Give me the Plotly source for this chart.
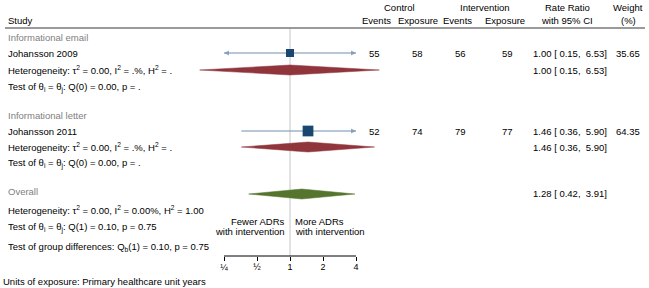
import plotly.graph_objects as go
import math

# ---------------- data ----------------
subgroups = ["Informational email", "Informational letter"]
studies = ["Johansson 2009", "Johansson 2011"]
ctrl_events = [55, 52]
ctrl_exposure = [58, 74]
int_events = [56, 79]
int_exposure = [59, 77]
rr = [1.00, 1.46]
ci_low = [0.15, 0.36]
ci_high = [6.53, 5.90]
weights = [35.65, 64.35]
sub_rr = [1.00, 1.46]
sub_low = [0.15, 0.36]
sub_high = [6.53, 5.90]
sub_het = ["Heterogeneity: τ<sup>2</sup> = 0.00, I<sup>2</sup> = .%, H<sup>2</sup> = .",
           "Heterogeneity: τ<sup>2</sup> = 0.00, I<sup>2</sup> = .%, H<sup>2</sup> = ."]
sub_test = ["Test of θ<sub>i</sub> = θ<sub>j</sub>: Q(0) = 0.00, p = .",
            "Test of θ<sub>i</sub> = θ<sub>j</sub>: Q(0) = 0.00, p = ."]
overall_rr = 1.28
overall_low = 0.42
overall_high = 3.91
overall_het = "Heterogeneity: τ<sup>2</sup> = 0.00, I<sup>2</sup> = 0.00%, H<sup>2</sup> = 1.00"
overall_test = "Test of θ<sub>i</sub> = θ<sub>j</sub>: Q(1) = 0.10, p = 0.75"
group_test = "Test of group differences: Q<sub>b</sub>(1) = 0.10, p = 0.75"
footnote = "Units of exposure: Primary healthcare unit years"
tick_vals = [0.25, 0.5, 1, 2, 4]
tick_labels = ["¼", "½", "1", "2", "4"]
left_note = ["Fewer ADRs", "with intervention"]
right_note = ["More ADRs", "with intervention"]

# ---------------- layout constants (pixels) ----------------
W, H = 649, 288
FONT = "Liberation Sans, Arial, sans-serif"
FS = 9.5
NAVY = "#1a476f"
CI_COL = "#6f8fae"
MAROON = "#90353b"
GREEN = "#55752f"
GREY_TXT = "#808080"

# row y-centres (pixels from top)
sub_rows = [
    dict(label=37, study=53, het=70, test=87),
    dict(label=115, study=131, het=147, test=163),
]
ROW_OVERALL = 191
ROW_OV_HET = 210
ROW_OV_TEST = 227
ROW_GROUP = 247
ROW_AXIS = 256
ROW_FOOT = 281
ROW_HEAD1 = 7
ROW_HEAD2 = 20
ROW_LINE = 28
NOTE_ROWS = [221, 231]

# column x-centres
COL_CE, COL_CX, COL_IE, COL_IX = 374, 418, 460, 507
COL_CI, COL_W = 570, 628

# x axis: pixel 290 <-> 1, 33 px per doubling
PX_ONE = 290
PX_PER_DEC = 33 / math.log10(2)
x_range = [-PX_ONE / PX_PER_DEC, (W - PX_ONE) / PX_PER_DEC]
AX_LO, AX_HI = tick_vals[0], tick_vals[-1]

fig = go.Figure()
annots = []


def txt(text, xpx, ypx, anchor="left", color="black", size=FS):
    annots.append(dict(text=text, x=xpx / W, y=ypx, xref="paper", yref="y",
                       xanchor=anchor, yanchor="middle", showarrow=False,
                       font=dict(family=FONT, size=size, color=color),
                       borderpad=0))


def diamond(lo, est, hi, yc, color, half=5):
    fig.add_trace(go.Scatter(x=[lo, est, hi, est, lo], y=[yc, yc - half, yc, yc + half, yc],
                             mode="lines", fill="toself", fillcolor=color,
                             line=dict(color=color, width=0.5), hoverinfo="skip"))


# reference line at 1
fig.add_trace(go.Scatter(x=[1, 1], y=[ROW_LINE + 1, ROW_AXIS], mode="lines",
                         line=dict(color="#c6c6c6", width=1), hoverinfo="skip"))

# axis line
fig.add_trace(go.Scatter(x=[AX_LO, AX_HI], y=[ROW_AXIS, ROW_AXIS], mode="lines",
                         line=dict(color="black", width=1), hoverinfo="skip"))

# header line
fig.add_shape(type="line", xref="paper", yref="y", x0=5 / W, x1=645 / W,
              y0=ROW_LINE, y1=ROW_LINE, line=dict(color="#9a9a9a", width=1.8))

# headers
txt("Study", 7, ROW_HEAD2)
txt("Control", (COL_CE + COL_CX) / 2 + 3, ROW_HEAD1, "center")
txt("Intervention", (COL_IE + COL_IX) / 2 + 2, ROW_HEAD1, "center")
txt("Events", COL_CE + 2, ROW_HEAD2, "center")
txt("Exposure", COL_CX, ROW_HEAD2, "center")
txt("Events", COL_IE - 3, ROW_HEAD2, "center")
txt("Exposure", COL_IX - 2, ROW_HEAD2, "center")
txt("Rate Ratio", COL_CI - 3, ROW_HEAD1, "center")
txt("with 95% CI", COL_CI - 3, ROW_HEAD2, "center")
txt("Weight", COL_W, ROW_HEAD1, "center")
txt("(%)", COL_W, ROW_HEAD2, "center")

for i in range(len(studies)):
    r = sub_rows[i]
    txt(subgroups[i], 7, r["label"], color=GREY_TXT)
    txt(studies[i], 7, r["study"])
    txt(sub_het[i], 7, r["het"])
    txt(sub_test[i], 7, r["test"])
    txt(str(ctrl_events[i]), COL_CE, r["study"], "center")
    txt(str(ctrl_exposure[i]), COL_CX, r["study"], "center")
    txt(str(int_events[i]), COL_IE, r["study"], "center")
    txt(str(int_exposure[i]), COL_IX, r["study"], "center")
    txt(f"{rr[i]:.2f} [ {ci_low[i]:.2f},  {ci_high[i]:.2f}]", COL_CI, r["study"], "center")
    txt(f"{weights[i]:.2f}", COL_W, r["study"], "center")
    txt(f"{sub_rr[i]:.2f} [ {sub_low[i]:.2f},  {sub_high[i]:.2f}]", COL_CI, r["het"], "center")

    # CI line, clipped to axis range with arrows
    lo = max(ci_low[i], AX_LO)
    hi = min(ci_high[i], AX_HI)
    syms = ["arrow-left" if ci_low[i] < AX_LO else "circle",
            "arrow-right" if ci_high[i] > AX_HI else "circle"]
    sizes = [5 if ci_low[i] < AX_LO else 0, 5 if ci_high[i] > AX_HI else 0]
    fig.add_trace(go.Scatter(x=[lo, hi], y=[r["study"], r["study"]], mode="lines+markers",
                             line=dict(color=CI_COL, width=1),
                             marker=dict(symbol=syms, size=sizes, color=CI_COL,
                                         line=dict(width=0)),
                             hoverinfo="skip"))
    # weight square
    fig.add_trace(go.Scatter(x=[rr[i]], y=[r["study"]], mode="markers",
                             marker=dict(symbol="square", color=NAVY,
                                         size=1.34 * math.sqrt(weights[i]),
                                         line=dict(width=0)),
                             hoverinfo="skip"))
    diamond(sub_low[i], sub_rr[i], sub_high[i], r["het"], MAROON)

# overall
txt("Overall", 7, ROW_OVERALL, color=GREY_TXT)
txt(overall_het, 7, ROW_OV_HET)
txt(overall_test, 7, ROW_OV_TEST)
txt(group_test, 7, ROW_GROUP)
txt(f"{overall_rr:.2f} [ {overall_low:.2f},  {overall_high:.2f}]", COL_CI, ROW_OVERALL + 2, "center")
diamond(overall_low, overall_rr, overall_high, ROW_OVERALL + 3, GREEN)

# direction notes
for k in range(2):
    txt(left_note[k], 286, NOTE_ROWS[k], "right")
    txt(right_note[k], 294, NOTE_ROWS[k], "left")

txt(footnote, 2, ROW_FOOT)

fig.update_layout(
    width=W, height=H, autosize=False,
    margin=dict(l=0, r=0, t=0, b=0),
    paper_bgcolor="white", plot_bgcolor="white",
    showlegend=False,
    annotations=annots,
    xaxis=dict(type="log", range=x_range, domain=[0, 1], anchor="free",
               position=1 - ROW_AXIS / H,
               showgrid=False, zeroline=False, showline=False,
               ticks="outside", ticklen=4, tickcolor="black", tickwidth=1,
               ticklabelstandoff=-2,
               tickvals=tick_vals, ticktext=tick_labels,
               tickfont=dict(family=FONT, size=9, color="black"),
               fixedrange=True),
    yaxis=dict(range=[H, 0], domain=[0, 1], visible=False, fixedrange=True),
)

fig.write_html("out.html", config={"displayModeBar": False},
               post_script="document.body.style.margin='0px';document.body.style.overflow='hidden';")
